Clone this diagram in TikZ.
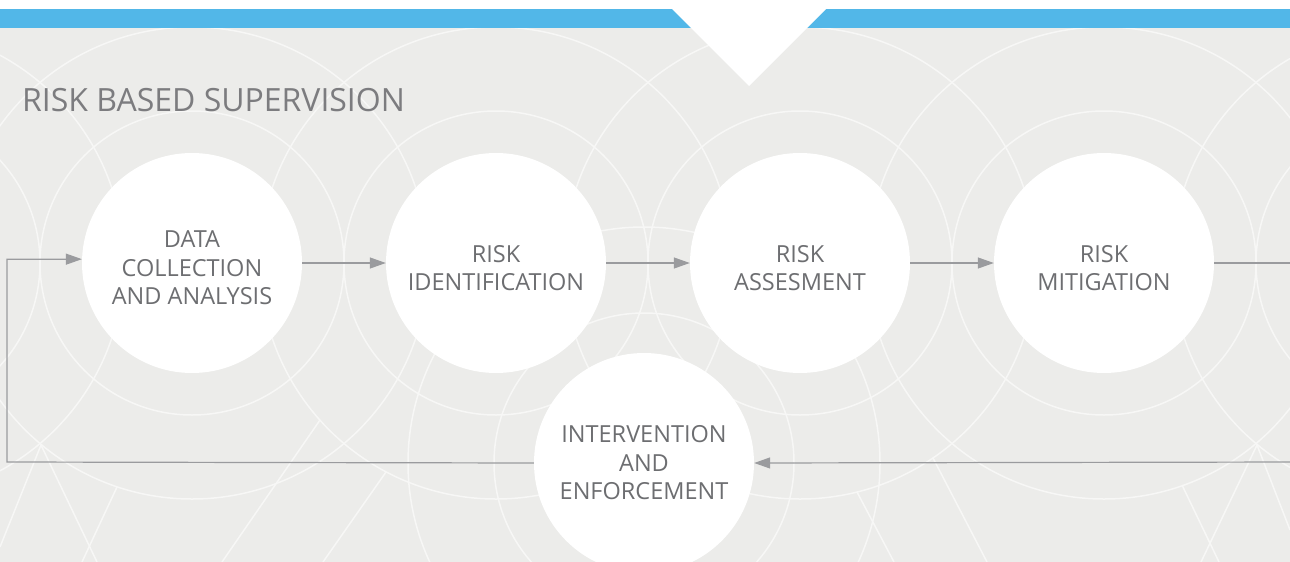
\documentclass[tikz,border=0pt]{standalone}
\usepackage{fontspec}
\setmainfont{Open Sans}
\usetikzlibrary{arrows.meta}

\definecolor{bggray}{HTML}{ECECEA}
\definecolor{bandblue}{HTML}{52B7E8}
\definecolor{txtgray}{HTML}{6D6E71}
\definecolor{linegray}{HTML}{9A9B9E}
\definecolor{ringc}{HTML}{F7F7F6}

% pushes the text block a little below the circle centre
\newcommand{\stagetop}{\rule{0pt}{27pt}}

\tikzset{
  stage/.style={circle, fill=white, minimum size=220pt, inner sep=0pt, align=center,
    text=txtgray, font=\fontsize{23.5}{28.5}\selectfont},
  ring/.style={draw=ringc, line width=1.5pt},
  link/.style={draw=linegray, line width=1.2pt},
  flow/.style={link, -{Triangle[length=16pt,width=11pt]}}
}

\begin{document}
\begin{tikzpicture}[x=1pt,y=-1pt]
	\clip (0,0) rectangle (1290,562);
	\fill[white] (0,0) rectangle (1290,562);
	\fill[bggray] (0,28) rectangle (1290,562);

	% background pattern
	\begin{scope}
	\clip (0,28) rectangle (1290,562);
	\foreach \cx in {-112,192,496,800,1104,1408}
	{
		\draw[ring] (\cx,263) circle (152);
		\draw[ring] (\cx,263) circle (236);
	}
	\draw[ring] (644,463) circle (150);
	\draw[ring] (644,463) circle (236);
	\draw[ring] (0,547) -- (41,445) -- (97,562);
	\draw[ring] (117,487) -- (82,562);
	\draw[ring] (320,420) -- (222,562);
	\draw[ring] (386,472) -- (323,562);
	\draw[ring] (857,492) -- (894,562);
	\draw[ring] (933,458) -- (987,562);
	\draw[ring] (1182,485) -- (1219,562);
	\draw[ring] (1201,562) -- (1257,445) -- (1290,530);
	\end{scope}

	% top band with notch
	\fill[bandblue] (0,9) rectangle (1290,28);
	\fill[white] (663,0) -- (835,0) -- (749,86) -- cycle;

	\node[anchor=base west, inner sep=0pt, text=txtgray!90, font=\fontsize{32}{38}\selectfont] (title) at (22,111) {RISK BASED SUPERVISION};

	% stages
	\node[stage] (data) at (192,263) {\stagetop DATA\\COLLECTION\\AND ANALYSIS};
	\node[stage] (ident) at (496,263) {\stagetop RISK\\IDENTIFICATION};
	\node[stage] (assess) at (800,263) {\stagetop RISK\\ASSESMENT};
	\node[stage] (mitig) at (1104,263) {\stagetop RISK\\MITIGATION};
	\node[stage] (interv) at (644,463) {INTERVENTION\\AND\\ENFORCEMENT};

	\coordinate (outR) at (1295,263);
	\coordinate (inR) at (1295,462);
	\coordinate (loopL) at (7,462);

	% connectors
	\draw[flow] (data) -- (ident);
	\draw[flow] (ident) -- (assess);
	\draw[flow] (assess) -- (mitig);
	\draw[link] (mitig) -- (outR);
	\draw[flow] (inR) -- (interv.east);
	\draw[flow] (interv.west) -- (loopL) |- (data.178);
\end{tikzpicture}
\end{document}
